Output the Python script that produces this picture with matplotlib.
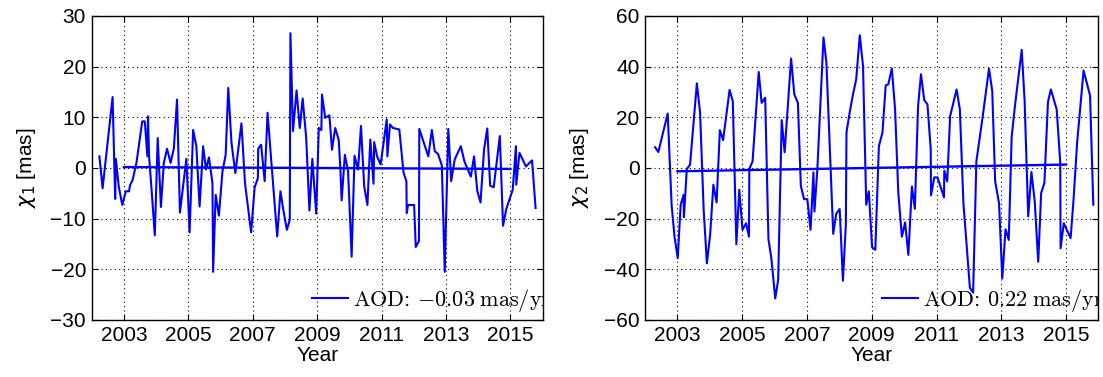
import matplotlib
matplotlib.use("Agg")
import matplotlib.pyplot as plt
import numpy as np

# ---------------- data ----------------
years1 = [2002.24, 2002.34, 2002.65, 2002.73, 2002.75, 2002.84, 2002.95, 2003.06, 2003.16, 2003.19,
          2003.27, 2003.39, 2003.57, 2003.65, 2003.73, 2003.75, 2003.78, 2003.86, 2003.96, 2004.05,
          2004.15, 2004.24, 2004.34, 2004.45, 2004.55, 2004.65, 2004.74, 2004.94, 2005.04, 2005.15,
          2005.25, 2005.35, 2005.46, 2005.55, 2005.64, 2005.75, 2005.77, 2005.85, 2005.95, 2006.06,
          2006.16, 2006.24, 2006.34, 2006.46, 2006.65, 2006.76, 2006.95, 2007.06, 2007.16, 2007.17,
          2007.26, 2007.37, 2007.46, 2007.58, 2007.76, 2007.86, 2007.95, 2008.06, 2008.15, 2008.17,
          2008.25, 2008.36, 2008.46, 2008.55, 2008.66, 2008.76, 2008.85, 2008.97, 2009.05, 2009.13,
          2009.15, 2009.25, 2009.38, 2009.46, 2009.56, 2009.67, 2009.72, 2009.76, 2009.86, 2009.96,
          2010.07, 2010.16, 2010.27, 2010.36, 2010.46, 2010.56, 2010.65, 2010.75, 2010.77, 2010.86,
          2010.97, 2011.16, 2011.18, 2011.26, 2011.35, 2011.55, 2011.68, 2011.77, 2011.78, 2011.82,
          2012.01, 2012.06, 2012.16, 2012.17, 2012.45, 2012.56, 2012.65, 2012.75, 2012.87, 2012.96,
          2013.07, 2013.16, 2013.27, 2013.46, 2013.57, 2013.77, 2013.87, 2013.97, 2014.07, 2014.18,
          2014.28, 2014.37, 2014.48, 2014.67, 2014.77, 2014.87, 2015.07, 2015.17, 2015.18, 2015.28,
          2015.48, 2015.67, 2015.78]
chi1 = [2.3, -4.0, 14.0, -6.1, 1.8, -3.6, -7.3, -4.6, -4.6, -3.4,
        -2.4, 1.0, 9.2, 9.2, 2.3, 10.2, 2.5, -4.3, -13.3, 5.9,
        -7.7, 1.0, 3.8, 1.0, 3.8, 13.5, -8.8, 1.8, -12.7, 7.5,
        4.3, -7.6, 4.3, -0.3, 2.1, -3.0, -20.5, -5.3, -9.4, -0.7,
        2.6, 15.8, 5.0, -1.0, 8.8, -3.0, -12.7, -3.8, -2.0, 3.8,
        4.6, -2.6, 10.9, 1.0, -13.5, -4.6, -8.3, -12.2, -10.2, 26.6,
        7.3, 15.3, 7.9, 13.7, 5.9, -8.4, 1.8, -9.0, 7.9, 7.5,
        14.5, 9.9, 10.4, 3.6, 7.9, 5.5, -0.2, -6.4, 2.6, -0.7,
        -17.5, 2.4, -0.3, 8.3, -3.6, -7.3, 5.6, -3.1, 5.1, 2.3,
        0.7, 9.6, 2.3, 8.6, 7.9, 7.6, -0.9, -2.6, -8.9, -7.3,
        -7.3, -15.6, -14.4, 7.7, 2.3, 7.5, 3.3, 2.8, 0.5, -20.5,
        7.7, -2.6, 1.7, 4.3, 1.3, -1.7, 2.3, -4.5, -6.8, 3.6,
        7.8, -3.5, -3.8, 6.3, -11.4, -8.1, -4.3, 4.3, -3.3, 3.0,
        0.3, 1.5, -7.9]

years2 = [2002.31, 2002.41, 2002.70, 2002.82, 2002.91, 2003.01, 2003.10, 2003.19, 2003.20, 2003.29,
          2003.39, 2003.60, 2003.70, 2003.81, 2003.91, 2004.01, 2004.11, 2004.21, 2004.31, 2004.41,
          2004.61, 2004.71, 2004.82, 2004.91, 2005.01, 2005.12, 2005.21, 2005.22, 2005.32, 2005.51,
          2005.60, 2005.71, 2005.81, 2005.90, 2006.02, 2006.11, 2006.22, 2006.31, 2006.51, 2006.61,
          2006.72, 2006.81, 2006.91, 2007.01, 2007.11, 2007.20, 2007.23, 2007.32, 2007.51, 2007.60,
          2007.81, 2007.90, 2008.01, 2008.11, 2008.20, 2008.22, 2008.32, 2008.42, 2008.52, 2008.63,
          2008.73, 2008.83, 2008.91, 2009.01, 2009.11, 2009.22, 2009.33, 2009.43, 2009.51, 2009.62,
          2009.72, 2009.82, 2009.93, 2010.03, 2010.13, 2010.24, 2010.33, 2010.43, 2010.52, 2010.62,
          2010.72, 2010.82, 2010.83, 2010.93, 2011.03, 2011.23, 2011.24, 2011.33, 2011.42, 2011.62,
          2011.72, 2011.83, 2012.03, 2012.13, 2012.23, 2012.42, 2012.62, 2012.72, 2012.81, 2012.93,
          2013.03, 2013.13, 2013.23, 2013.32, 2013.42, 2013.63, 2013.72, 2013.83, 2013.93, 2014.03,
          2014.14, 2014.23, 2014.33, 2014.44, 2014.53, 2014.71, 2014.82, 2014.83, 2014.93, 2015.14,
          2015.23, 2015.34, 2015.54, 2015.74, 2015.84]
chi2 = [8.2, 6.3, 21.5, -14.5, -27.1, -35.6, -14.5, -10.6, -19.4, -0.4,
        1.3, 33.4, 21.8, -16.5, -37.6, -26.4, -6.6, -13.6, 14.9, 11.0,
        30.8, 26.4, -30.1, -8.6, -24.4, -21.8, -27.1, -0.4, 2.6, 37.9,
        25.7, 27.7, -28.1, -35.6, -51.5, -44.2, 18.9, 6.2, 43.2, 29.0,
        25.7, -7.0, -12.3, -12.3, -24.4, -1.7, -17.2, -0.7, 51.5, 41.6,
        -26.0, -18.1, -16.2, -44.5, -22.4, 14.1, 22.0, 29.0, 35.0, 52.4,
        40.3, -14.5, -9.2, -31.3, -32.3, 8.6, 13.9, 32.6, 33.0, 39.3,
        23.1, -9.9, -27.1, -21.5, -34.3, -7.3, -16.1, 24.4, 37.0, 26.8,
        25.1, 7.5, -10.8, -3.7, -3.7, -11.6, -1.1, -5.3, 20.5, 31.0,
        23.1, -13.9, -47.3, -49.2, 2.6, 19.8, 39.2, 30.4, -5.3, -13.9,
        -43.6, -24.2, -28.4, 12.3, 24.4, 46.6, 26.4, -19.1, -1.6, -12.9,
        -37.0, -9.9, -5.9, 26.0, 31.0, 23.1, 2.0, -31.7, -21.8, -27.7,
        -12.5, 9.9, 38.5, 28.6, -14.5]

trend_years = [2003.0, 2015.0]
trend1 = [0.18, -0.18]
trend2 = [-1.3, 1.35]

xticks = [2003, 2005, 2007, 2009, 2011, 2013, 2015]
yticks1 = [-30, -20, -10, 0, 10, 20, 30]
yticks2 = [-60, -40, -20, 0, 20, 40, 60]
ylabels = [r'$\chi_1$ [mas]', r'$\chi_2$ [mas]']
legend_labels = [r'AOD: $-0.03\;$mas/yr', r'AOD: $0.22\;$mas/yr']

# ---------------- style ----------------
plt.rcParams['font.family'] = ['Liberation Sans', 'DejaVu Sans']
plt.rcParams['font.size'] = 15
plt.rcParams['axes.unicode_minus'] = True

fig = plt.figure(figsize=(11.03, 3.77), dpi=100)
ax1 = fig.add_axes([0.0831, 0.1512, 0.4089, 0.8064])
ax2 = fig.add_axes([0.5848, 0.1512, 0.4111, 0.8064])

blue = (0, 0, 1)
panels = [
    (ax1, years1, chi1, trend1, yticks1, (-30, 30), ylabels[0], legend_labels[0], 0.4885),
    (ax2, years2, chi2, trend2, yticks2, (-60, 60), ylabels[1], legend_labels[1], 0.5226),
]

for ax, yrs, vals, tr, yt, ylim, ylab, leglab, lx in panels:
    line, = ax.plot(yrs, vals, color=blue, lw=1.5)
    ax.plot(trend_years, tr, color=blue, lw=1.7)
    ax.set_xlim(2002, 2016)
    ax.set_ylim(*ylim)
    ax.set_xticks(xticks)
    ax.set_yticks(yt)
    ax.grid(True, color='black', linestyle=(0, (1, 3)), linewidth=0.8)
    ax.tick_params(direction='in', length=4, width=0.8, top=True, right=True,
                   labelsize=15, pad=4)
    for s in ax.spines.values():
        s.set_linewidth(1.0)
    ax.set_xlabel('Year', fontsize=15, labelpad=1)
    ax.set_ylabel(ylab, fontsize=15, labelpad=9, math_fontfamily='dejavusans')
    leg = ax.legend([line], [leglab], loc='center left', bbox_to_anchor=(lx, 0.0635),
                    frameon=False, borderpad=0, borderaxespad=0, handlelength=1.6,
                    handletextpad=0.25, prop={'family': 'cmr10', 'size': 16})
    for t in leg.get_texts():
        t.set_math_fontfamily('cm')
        t.set_clip_on(True)
        t.set_clip_box(ax.bbox)
    for l in leg.get_lines():
        l.set_linewidth(1.5)

fig.savefig('out.png', dpi=100)
